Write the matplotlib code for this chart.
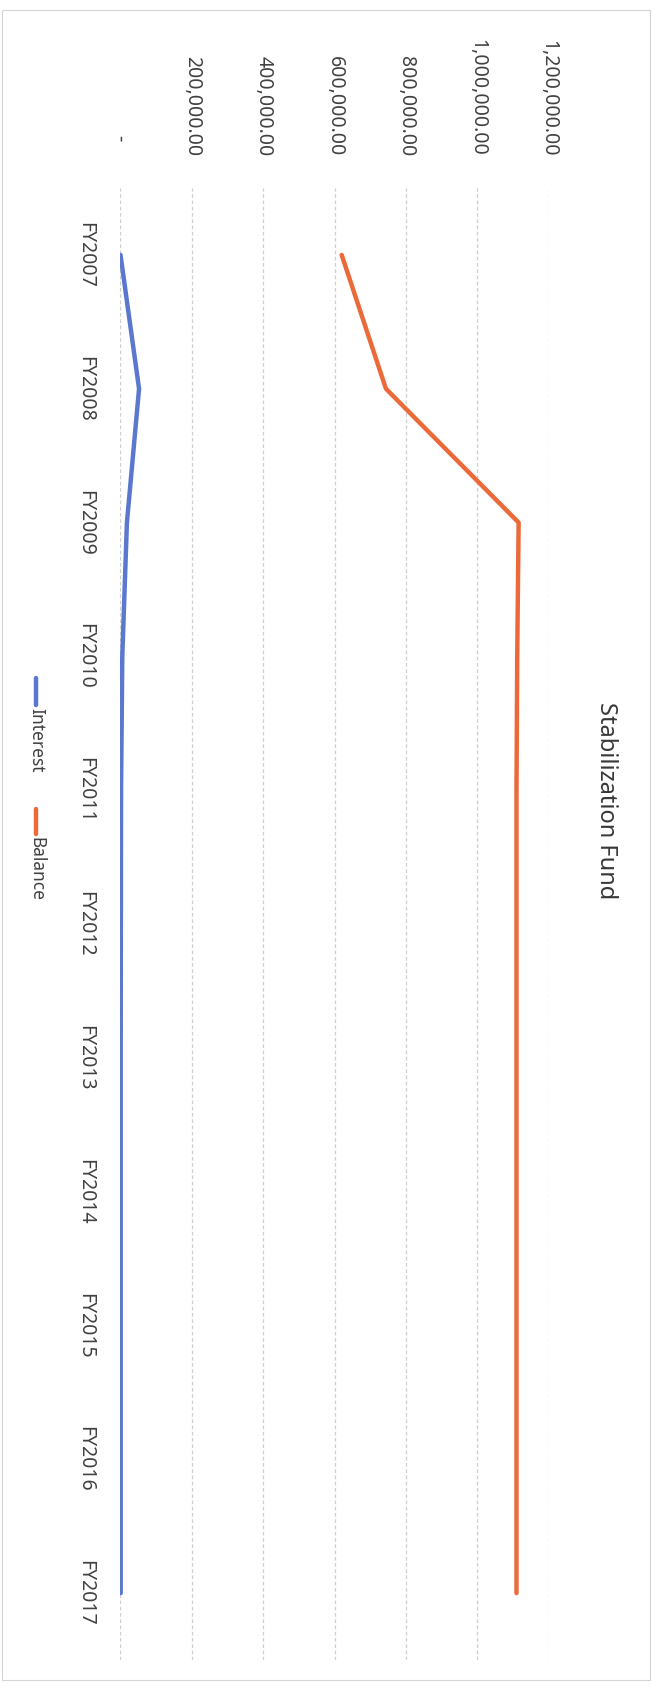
import matplotlib
matplotlib.use("Agg")
import matplotlib.pyplot as plt
from matplotlib.lines import Line2D
from matplotlib.patches import Rectangle
from matplotlib.ticker import FuncFormatter, MultipleLocator

plt.rcParams['font.family'] = ['Noto Sans', 'DejaVu Sans']

years = ["FY2007", "FY2008", "FY2009", "FY2010", "FY2011", "FY2012",
         "FY2013", "FY2014", "FY2015", "FY2016", "FY2017"]
interest = [0, 52000, 18000, 5000, 1500, 1000, 500, 500, 500, 500, 500]
balance = [620000, 744000, 1116000, 1112000, 1110000, 1110000, 1110000,
           1110000, 1110000, 1110000, 1110000]
series_names = ["Interest", "Balance"]
series_colors = ["#5b78cf", "#ec6a3a"]
title = "Stabilization Fund"

W, H = 654, 1688
txt_color = "#404040"

def fx(px):
    return px / W

def fy(py):
    return 1 - py / H

fig = plt.figure(figsize=(W / 100, H / 100), dpi=100)
fig.patch.set_facecolor("white")

# the whole chart is laid out turned a quarter clockwise:
# categories run down the page, values run left to right
ax = fig.add_axes([fx(120.5), fy(1660), fx(548.6) - fx(120.5), (1660 - 188) / H])
pos = list(range(len(years)))
for vals, col in zip([interest, balance], series_colors):
    ax.plot(vals, pos, color=col, lw=3.2, solid_capstyle="round",
            solid_joinstyle="round", zorder=3)

ax.set_xlim(0, 1200000)
ax.set_ylim(len(years) - 0.5, -0.5)
ax.xaxis.set_major_locator(MultipleLocator(200000))
ax.xaxis.set_major_formatter(FuncFormatter(
    lambda v, p: "-   " if v == 0 else f"{v:,.2f}"))
ax.xaxis.tick_top()
ax.set_yticks(pos)
ax.set_yticklabels(years)

ax.grid(axis="x", color="#cfcfcf", lw=0.9, ls=(0, (3, 2)), zorder=0)
for s in ax.spines.values():
    s.set_visible(False)

ax.tick_params(axis="x", length=0, pad=23, labelrotation=-90,
               labelsize=14, labelcolor=txt_color)
ax.tick_params(axis="y", length=0, pad=18, labelrotation=-90,
               labelsize=14, labelcolor=txt_color)
for lab in ax.get_yticklabels():
    lab.set_va("center")

fig.text(fx(606), fy(801), title, rotation=-90, ha="center", va="center",
         fontsize=17, color="#383838")

# legend drawn by hand so it can be turned with the rest
leg_x = 36
leg_rows = [(678, 705), (809, 834)]
for name, col, (y0, y1) in zip(series_names, series_colors, leg_rows):
    fig.add_artist(Line2D([fx(leg_x), fx(leg_x)], [fy(y0), fy(y1)],
                          color=col, lw=3.2, solid_capstyle="round",
                          transform=fig.transFigure))
    fig.text(fx(leg_x), fy(y1 + 3), name, rotation=-90, ha="center", va="top",
             fontsize=12.5, color=txt_color)

fig.add_artist(Rectangle((fx(2), fy(1680)), fx(650) - fx(2), (1680 - 10) / H,
                         fill=False, ec="#d4d4d4", lw=0.8,
                         transform=fig.transFigure))

fig.savefig("out.png", dpi=100, facecolor="white")
